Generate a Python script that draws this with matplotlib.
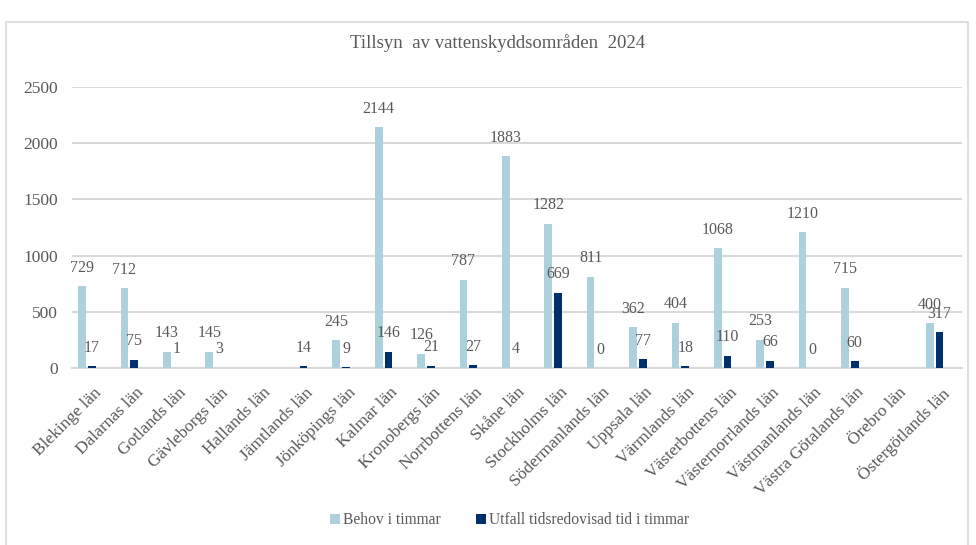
import numpy as np
import matplotlib.pyplot as plt
from matplotlib.patches import Rectangle

plt.rcParams['font.family'] = ['Liberation Serif', 'DejaVu Serif']

lan = ["Blekinge län", "Dalarnas län", "Gotlands län", "Gävleborgs län", "Hallands län",
       "Jämtlands län", "Jönköpings län", "Kalmar län", "Kronobergs län", "Norrbottens län",
       "Skåne län", "Stockholms län", "Södermanlands län", "Uppsala län", "Värmlands län",
       "Västerbottens län", "Västernorrlands län", "Västmanlands län", "Västra Götalands län",
       "Örebro län", "Östergötlands län"]
behov = [729, 712, 143, 145, None, None, 245, 2144, 126, 787, 1883, 1282, 811, 362, 404,
         1068, 253, 1210, 715, None, 400]
utfall = [17, 75, 1, 3, None, 14, 9, 146, 21, 27, 4, 669, 0, 77, 18, 110, 66, 0, 60, None, 317]

LIGHT = "#aed0dc"
DARK = "#00306b"
TXT = "#595959"
GRID = "#d9d9d9"

fig = plt.figure(figsize=(9.76, 5.45), dpi=100)
ax = fig.add_axes([0.0738, 0.3248, 0.912, 0.5156])

x = np.arange(len(lan))
w = 0.18
b_vals = [v if v is not None else 0 for v in behov]
u_vals = [v if v is not None else 0 for v in utfall]
ax.bar(x - 0.265, b_vals, w, color=LIGHT, label="Behov i timmar", zorder=3)
ax.bar(x - 0.035, u_vals, w, color=DARK, label="Utfall tidsredovisad tid i timmar", zorder=3)

# dataetiketter
for xi, v in zip(x, behov):
    if v is not None:
        ax.annotate(str(v), (xi - 0.265, v), xytext=(0, 7.5), textcoords="offset points",
                    ha="center", va="bottom", fontsize=11.5, color=TXT)
for xi, v in zip(x, utfall):
    if v is not None:
        ax.annotate(str(v), (xi - 0.035, v), xytext=(0, 7.5), textcoords="offset points",
                    ha="center", va="bottom", fontsize=11.5, color=TXT)

ax.set_xlim(-0.5, len(lan) - 0.5)
ax.set_ylim(0, 2500)
ax.set_yticks(range(0, 2501, 500))
ax.yaxis.grid(True, color=GRID, linewidth=1.5, zorder=0)
ax.set_axisbelow(True)
for s in ["top", "right", "left"]:
    ax.spines[s].set_visible(False)
ax.spines["bottom"].set_color(GRID)
ax.spines["bottom"].set_linewidth(1.5)
ax.tick_params(axis="both", length=0, labelsize=12.5, labelcolor=TXT)
ax.tick_params(axis="y", pad=10)
ax.set_xticks(x)
ax.set_xticklabels(lan, rotation=45, ha="right", rotation_mode="anchor")
ax.tick_params(axis="x", pad=12)

fig.text(0.51, 0.921, "Tillsyn  av vattenskyddsområden  2024", ha="center", va="center",
         fontsize=13.5, color=TXT)

fig.legend(loc="center", bbox_to_anchor=(0.522, 0.045), ncol=2, frameon=False, fontsize=11.2,
           handlelength=0.6, handleheight=0.6, columnspacing=2.3, handletextpad=0.2,
           labelcolor=TXT)

fig.patches.append(Rectangle((6 / 976, -0.01), 962 / 976, 1 - 22 / 545 + 0.01,
                             transform=fig.transFigure, fill=False, edgecolor=GRID, linewidth=1.2))

fig.savefig("out.png", dpi=100)
